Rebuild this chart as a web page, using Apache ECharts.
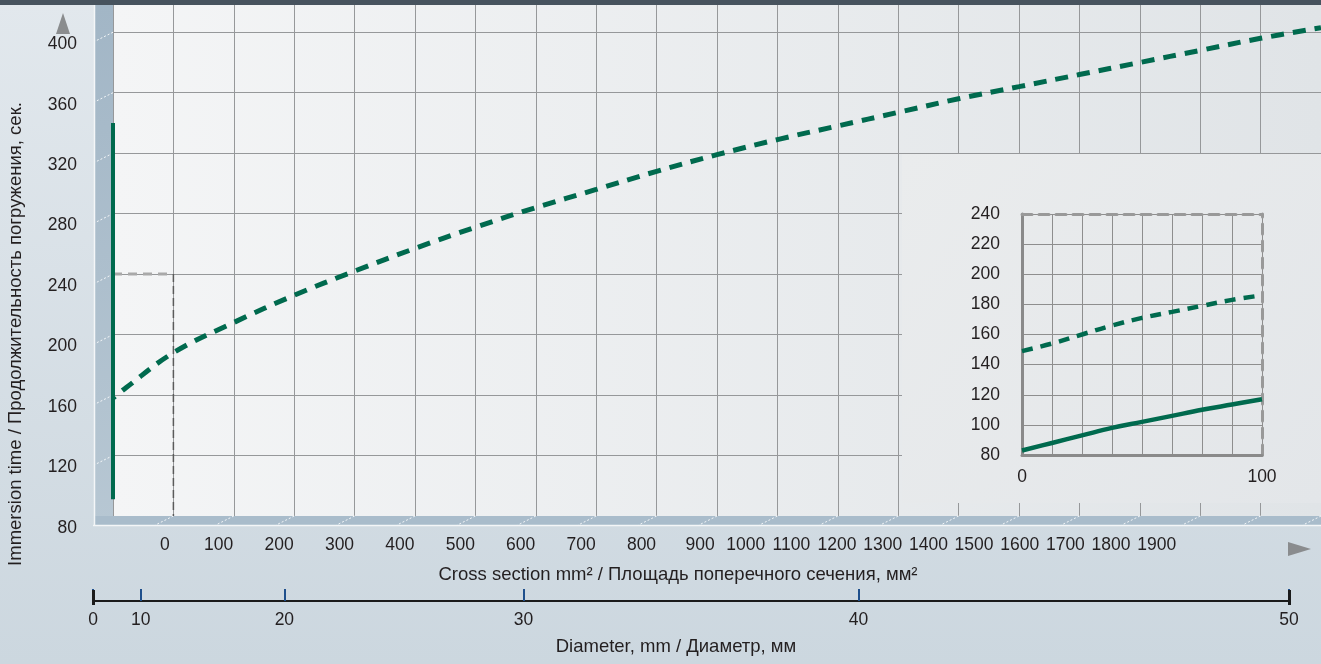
<!DOCTYPE html>
<html>
<head>
<meta charset="utf-8">
<script src="https://cdn.jsdelivr.net/npm/echarts@6/dist/echarts.min.js"></script>
<style>
html,body{margin:0;padding:0;background:#d6dfe6;}
#chart{width:1321px;height:664px;}
</style>
</head>
<body>
<div id="chart"></div>
<script>
// ---------- data ----------
// main curve: cross section (mm²) -> immersion time (s)
const mainCrossSection = [0, 22, 100, 200, 300, 400, 500, 600, 700, 800, 900, 1000, 1100, 1200, 1300, 1400, 1500, 1600, 1700, 1800, 1900, 2000];
const mainTime = [158, 165, 188, 208, 226, 242, 257, 271, 284, 296, 308, 319, 329, 338, 347, 356, 364, 372, 380, 388, 396, 403];
// vertical range bar at cross section 0
const rangeBar = [[0, 91], [0, 340]];
// zoomed window (0..100 mm², 80..240 s)
const zoomWindow = [[0, 240], [100, 240], [100, 80]];
// inset (0..100 mm²)
const insetCrossSection = [0, 12.5, 25, 37.5, 50, 62.5, 75, 87.5, 100];
const insetDashed = [149, 154, 160, 166, 171, 175, 179, 183, 186];
const insetSolid = [83, 88, 93, 98, 102, 106, 110, 113.5, 117];
// tick labels
const yTicks = [80, 120, 160, 200, 240, 280, 320, 360, 400];
const crossSectionLabels = ['0','100','200','300','400','500','600','700','800','900','1000','1100','1200','1300','1400','1500','1600','1700','1800','1900'];
const diameters = [0, 10, 20, 30, 40, 50];
const insetYTicks = [80, 100, 120, 140, 160, 180, 200, 220, 240];

// ---------- layout helpers ----------
const FONT = 'Liberation Sans, Arial, sans-serif';
const TXT = '#231f20';
const GREEN = '#006a4e';
const LBL = 17.5;
const TTL = 18.5;
// printed label row positions (in axis units) – layout of the original typesetting
function labelPos(k) {
  if (k === 0) return 86;
  if (k <= 800) return k + 75;
  return 972 + (k - 900) * 0.756;
}
const labelPositions = crossSectionLabels.map(s => labelPos(+s));
const area = d => Math.PI * d * d / 4;
const diaPositions = diameters.map(area);

const chart = echarts.init(document.getElementById('chart'), null, {renderer: 'canvas'});

const option = {
  animation: false,
  backgroundColor: {
    type: 'linear', x: 0, y: 0, x2: 0, y2: 1,
    colorStops: [{offset: 0, color: '#e2e8ed'}, {offset: 1, color: '#ccd7df'}]
  },
  textStyle: {fontFamily: FONT},
  grid: [
    { // main
      left: 113, right: -4, top: 2, height: 514,
      show: true, borderWidth: 0,
      backgroundColor: {
        type: 'linear', x: 0, y: 0, x2: 1, y2: 0,
        colorStops: [{offset: 0, color: '#f4f5f6'}, {offset: 1, color: '#e0e4e7'}]
      }
    },
    { left: 1022, top: 214, width: 240, height: 241 }, // inset
    { left: 93, width: 1196, top: 590, height: 11 }     // diameter scale
  ],
  xAxis: [
    { // 0 main value axis (grid lines)
      gridIndex: 0, type: 'value', min: 0, max: 2000, interval: 100, z: 1,
      axisLine: {show: false, onZero: false}, axisTick: {show: false}, axisLabel: {show: false},
      splitLine: {show: true, lineStyle: {color: '#96989a', width: 1}}
    },
    { // 1 printed label row
      gridIndex: 0, type: 'value', min: 0, max: 2000, position: 'bottom', z: 1,
      axisLine: {show: false, onZero: false}, axisTick: {show: false}, splitLine: {show: false},
      axisLabel: {
        show: true, customValues: labelPositions, margin: 20,
        fontSize: LBL, color: TXT, fontFamily: FONT,
        formatter: v => {
          const i = labelPositions.findIndex(p => Math.abs(p - v) < 1e-6);
          return i >= 0 ? crossSectionLabels[i] : '';
        }
      }
    },
    { // 2 inset x axis
      gridIndex: 1, type: 'value', min: 0, max: 100, interval: 12.5, z: 4,
      axisLine: {show: true, onZero: false, lineStyle: {color: '#8a8a8a', width: 3}},
      axisTick: {show: false},
      axisLabel: {
        show: true, fontSize: LBL, color: TXT, margin: 13, fontFamily: FONT,
        showMinLabel: true, showMaxLabel: true,
        formatter: v => (v === 0 || v === 100) ? String(v) : ''
      },
      splitLine: {show: true, lineStyle: {color: '#8e8e8e', width: 1}}
    },
    { // 3 inset top dashed border
      gridIndex: 1, type: 'value', min: 0, max: 100, position: 'top', z: 4,
      axisLine: {show: true, onZero: false, lineStyle: {color: '#999999', width: 3, type: [10, 7]}},
      axisTick: {show: false}, axisLabel: {show: false}, splitLine: {show: false}
    },
    { // 4 diameter scale
      gridIndex: 2, type: 'value', min: 0, max: area(50), z: 1,
      axisLine: {show: true, onZero: false, lineStyle: {color: '#1b1b1b', width: 2}},
      axisTick: {show: true, inside: true, length: 12, customValues: diaPositions, lineStyle: {color: '#1e4f8c', width: 2}},
      axisLabel: {
        show: true, customValues: diaPositions, margin: 10, fontSize: LBL, color: TXT, fontFamily: FONT,
        formatter: v => String(Math.round(Math.sqrt(v * 4 / Math.PI)))
      },
      splitLine: {show: false}
    },
    { // 5 diameter scale end caps
      gridIndex: 2, type: 'value', min: 0, max: area(50), z: 2,
      axisLine: {show: false, onZero: false},
      axisTick: {show: true, inside: true, length: 15, customValues: [area(diameters[0]), area(diameters[diameters.length - 1])], lineStyle: {color: '#1b1b1b', width: 3}},
      axisLabel: {show: false}, splitLine: {show: false}
    }
  ],
  yAxis: [
    { // 0 main
      gridIndex: 0, type: 'value', min: 80, max: 420, interval: 40, z: 1,
      axisLine: {show: false}, axisTick: {show: false},
      axisLabel: {
        show: true, margin: 36, fontSize: LBL, color: TXT, fontFamily: FONT,
        verticalAlign: 'top', padding: [3, 0, 0, 0], showMaxLabel: false,
        formatter: v => yTicks.includes(v) ? String(v) : ''
      },
      splitLine: {show: true, lineStyle: {color: '#96989a', width: 1}}
    },
    { // 1 inset y
      gridIndex: 1, type: 'value', min: 80, max: 240, interval: 20, z: 4,
      axisLine: {show: true, onZero: false, lineStyle: {color: '#8a8a8a', width: 3}},
      axisTick: {show: false},
      axisLabel: {show: true, margin: 22, fontSize: LBL, color: TXT, fontFamily: FONT,
        formatter: v => insetYTicks.includes(v) ? String(v) : ''},
      splitLine: {show: true, lineStyle: {color: '#8e8e8e', width: 1}}
    },
    { // 2 inset right dashed border
      gridIndex: 1, type: 'value', min: 80, max: 240, position: 'right', z: 4,
      axisLine: {show: true, onZero: false, lineStyle: {color: '#999999', width: 3, type: [10, 7]}},
      axisTick: {show: false}, axisLabel: {show: false}, splitLine: {show: false}
    },
    { // 3 dummy for diameter grid
      gridIndex: 2, type: 'value', show: false
    }
  ],
  series: [
    {
      name: 'window-top', type: 'line', xAxisIndex: 0, yAxisIndex: 0, z: 3,
      data: zoomWindow.slice(0, 2), symbol: 'none',
      lineStyle: {color: '#a9a9a9', width: 3, type: [9, 6]}
    },
    {
      name: 'window-side', type: 'line', xAxisIndex: 0, yAxisIndex: 0, z: 3,
      data: zoomWindow.slice(1), symbol: 'none',
      lineStyle: {color: '#5a5a5a', width: 1.5, type: [8, 4]}
    },
    {
      name: 'main', type: 'line', xAxisIndex: 0, yAxisIndex: 0, z: 4,
      data: mainCrossSection.map((x, i) => [x, mainTime[i]]),
      symbol: 'none', smooth: 0.4,
      lineStyle: {color: GREEN, width: 5, type: [13, 9], dashOffset: 10, cap: 'butt'}
    },
    {
      name: 'range', type: 'line', xAxisIndex: 0, yAxisIndex: 0, z: 5,
      data: rangeBar, symbol: 'none',
      lineStyle: {color: GREEN, width: 4}
    },
    {
      name: 'inset-dashed', type: 'line', xAxisIndex: 2, yAxisIndex: 1, z: 6,
      data: insetCrossSection.map((x, i) => [x, insetDashed[i]]),
      symbol: 'none', smooth: 0.4,
      lineStyle: {color: GREEN, width: 4.5, type: [11, 8], cap: 'butt'}
    },
    {
      name: 'inset-solid', type: 'line', xAxisIndex: 2, yAxisIndex: 1, z: 6,
      data: insetCrossSection.map((x, i) => [x, insetSolid[i]]),
      symbol: 'none', smooth: 0.4,
      lineStyle: {color: GREEN, width: 4.5}
    }
  ],
  graphic: [
    // lower-right panel behind inset
    { type: 'rect', z: 2, shape: {x: 902, y: 154, width: 419, height: 349},
      style: {fill: {type: 'linear', x: 0, y: 0, x2: 1, y2: 1, colorStops: [{offset: 0, color: '#eaeced'}, {offset: 1, color: '#e3e6e9'}]}} },
    // left wall
    { type: 'rect', z: 2, shape: {x: 95, y: 5, width: 18, height: 520},
      style: {fill: {type: 'linear', x: 0, y: 0, x2: 0, y2: 1, colorStops: [{offset: 0, color: '#a2b6c6'}, {offset: 1, color: '#b7c7d3'}]}} },
    // floor
    { type: 'rect', z: 2, shape: {x: 95, y: 516, width: 1226, height: 9},
      style: {fill: '#a9bccb'} },
    { type: 'line', z: 2, shape: {x1: 93, y1: 525.5, x2: 1321, y2: 525.5}, style: {stroke: '#f4f6f8', lineWidth: 1.5} },
    { type: 'line', z: 2, shape: {x1: 94.5, y1: 5, x2: 94.5, y2: 525}, style: {stroke: '#f4f6f8', lineWidth: 1.5} },
    // top dark band
    { type: 'rect', z: 20, shape: {x: 0, y: 0, width: 1321, height: 5}, style: {fill: '#47535e'} },
    // arrows
    { type: 'polygon', z: 20, shape: {points: [[63, 13], [70, 34], [56, 34]]}, style: {fill: '#8a8c8e'} },
    { type: 'polygon', z: 20, shape: {points: [[1288, 542], [1311, 549], [1288, 556]]}, style: {fill: '#8a8c8e'} },
    // titles
    { type: 'text', z: 20, x: 16, y: 334, rotation: Math.PI / 2,
      style: {text: 'Immersion time / Продолжительность погружения, сек.', font: TTL + 'px ' + FONT, fill: TXT, align: 'center', verticalAlign: 'middle'} },
    { type: 'text', z: 20, x: 678, y: 575,
      style: {text: 'Cross section mm² / Площадь поперечного сечения, мм²', font: TTL + 'px ' + FONT, fill: TXT, align: 'center', verticalAlign: 'middle'} },
    { type: 'text', z: 20, x: 676, y: 647,
      style: {text: 'Diameter, mm / Диаметр, мм', font: TTL + 'px ' + FONT, fill: TXT, align: 'center', verticalAlign: 'middle'} }
  ]
};
chart.setOption(option);

// perspective hatch marks on wall and floor, placed through the axes' own scales
const hatch = [];
for (let v = 100; v <= 2000; v += 100) {
  const p = chart.convertToPixel({xAxisIndex: 0, yAxisIndex: 0}, [v, 80]);
  hatch.push({ type: 'line', z: 3, shape: {x1: p[0], y1: p[1], x2: p[0] - 18, y2: p[1] + 9},
    style: {stroke: 'rgba(255,255,255,0.85)', lineWidth: 1, lineDash: [2, 2]} });
}
for (let v = 120; v <= 400; v += 40) {
  const p = chart.convertToPixel({xAxisIndex: 0, yAxisIndex: 0}, [0, v]);
  hatch.push({ type: 'line', z: 3, shape: {x1: p[0], y1: p[1], x2: p[0] - 18, y2: p[1] + 9},
    style: {stroke: 'rgba(255,255,255,0.85)', lineWidth: 1, lineDash: [2, 2]} });
}
chart.setOption({graphic: option.graphic.concat(hatch)});
</script>
</body>
</html>
